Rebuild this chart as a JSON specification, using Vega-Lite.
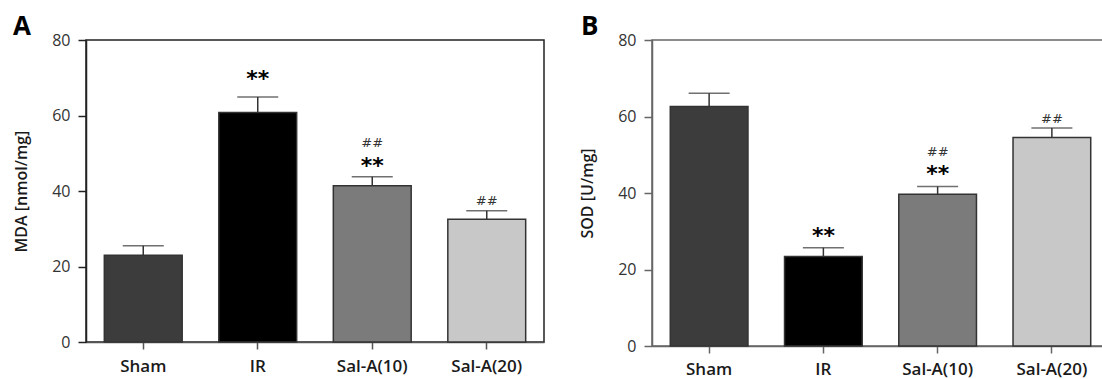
{
  "$schema": "https://vega.github.io/schema/vega-lite/v6.json",
  "padding": {"left": 12, "top": 13, "right": 0, "bottom": 0},
  "background": "white",
  "spacing": 33,
  "config": {
    "font": "Open Sans",
    "axis": {"grid": false},
    "title": {"font": "Open Sans", "fontSize": 26, "fontWeight": "bold", "color": "#000", "anchor": "start", "frame": "group", "baseline": "alphabetic"}
  },
  "datasets": {
    "a": [
      {"group": "Sham", "mean": 23.0, "upper": 25.5},
      {"group": "IR", "mean": 60.8, "upper": 64.9},
      {"group": "Sal-A(10)", "mean": 41.4, "upper": 43.8},
      {"group": "Sal-A(20)", "mean": 32.5, "upper": 34.8}
    ],
    "b": [
      {"group": "Sham", "mean": 62.6, "upper": 66.1},
      {"group": "IR", "mean": 23.4, "upper": 25.7},
      {"group": "Sal-A(10)", "mean": 39.7, "upper": 41.7},
      {"group": "Sal-A(20)", "mean": 54.5, "upper": 57.0}
    ],
    "annA": [
      {"group": "IR", "label": "**", "pos": 67.9},
      {"group": "Sal-A(10)", "label": "**", "pos": 44.9},
      {"group": "Sal-A(10)", "label": "##", "pos": 51.6},
      {"group": "Sal-A(20)", "label": "##", "pos": 36.3}
    ],
    "annB": [
      {"group": "IR", "label": "**", "pos": 26.8},
      {"group": "Sal-A(10)", "label": "**", "pos": 43.1},
      {"group": "Sal-A(10)", "label": "##", "pos": 49.8},
      {"group": "Sal-A(20)", "label": "##", "pos": 58.4}
    ]
  },
  "hconcat": [
    {
      "width": 458,
      "height": 302,
      "title": {"text": "A", "dx": -73, "offset": -8},
      "view": {"stroke": "#222", "strokeWidth": 1.5},
      "encoding": {
        "x": {"field": "group", "type": "nominal", "sort": null,
          "scale": {"domain": ["Sham", "IR", "Sal-A(10)", "Sal-A(20)"], "paddingInner": 0.32, "paddingOuter": 0.16},
          "axis": {"title": null, "labelAngle": 0, "labelFont": "Open Sans", "labelFontSize": 17, "labelFontWeight": 600, "labelColor": "#1a1a1a", "labelPadding": 9, "tickSize": 7, "tickWidth": 1.5, "tickColor": "#555", "domainColor": "#555", "domainWidth": 1.5}
        }
      },
      "layer": [
        {
          "data": {"name": "a"},
          "mark": {"type": "bar", "stroke": "#333", "strokeWidth": 1.5},
          "encoding": {
            "y": {"field": "mean", "type": "quantitative", "scale": {"domain": [0, 80], "nice": false},
              "axis": {"title": "MDA [nmol/mg]", "values": [0, 20, 40, 60, 80], "labelFont": "Open Sans", "labelFontSize": 16, "labelColor": "#333", "labelPadding": 8, "tickSize": 8, "tickWidth": 1.5, "tickColor": "#222", "domainColor": "#222", "domainWidth": 1.5, "titleFont": "Open Sans", "titleFontSize": 16, "titleFontWeight": 600, "titleColor": "#1a1a1a", "titlePadding": 22}},
            "color": {"field": "group", "type": "nominal", "sort": null,
              "scale": {"domain": ["Sham", "IR", "Sal-A(10)", "Sal-A(20)"], "range": ["#3c3c3c", "#000000", "#7b7b7b", "#c8c8c8"]}, "legend": null}
          }
        },
        {
          "data": {"name": "a"},
          "mark": {"type": "rule", "color": "#333", "strokeWidth": 1.5},
          "encoding": {"y": {"field": "mean", "type": "quantitative"}, "y2": {"field": "upper"}}
        },
        {
          "data": {"name": "a"},
          "mark": {"type": "tick", "color": "#333", "thickness": 1.5, "size": 41, "orient": "horizontal"},
          "encoding": {"y": {"field": "upper", "type": "quantitative"}}
        },
        {
          "data": {"name": "annA"},
          "transform": [{"filter": "datum.label == '**'"}],
          "mark": {"type": "text", "font": "DejaVu Sans", "fontSize": 22, "fontWeight": "bold", "color": "#000", "baseline": "alphabetic"},
          "encoding": {"y": {"field": "pos", "type": "quantitative"}, "text": {"field": "label"}}
        },
        {
          "data": {"name": "annA"},
          "transform": [{"filter": "datum.label == '##'"}],
          "mark": {"type": "text", "font": "DejaVu Sans", "fontSize": 13, "color": "#333", "baseline": "alphabetic"},
          "encoding": {"y": {"field": "pos", "type": "quantitative"}, "text": {"field": "label"}}
        }
      ]
    },
    {
      "width": 457,
      "height": 306,
      "title": {"text": "B", "dx": -71, "offset": -8},
      "view": {"stroke": "#666", "strokeWidth": 1.5},
      "encoding": {
        "x": {"field": "group", "type": "nominal", "sort": null,
          "scale": {"domain": ["Sham", "IR", "Sal-A(10)", "Sal-A(20)"], "paddingInner": 0.32, "paddingOuter": 0.16},
          "axis": {"title": null, "labelAngle": 0, "labelFont": "Open Sans", "labelFontSize": 17, "labelFontWeight": 600, "labelColor": "#1a1a1a", "labelPadding": 8, "tickSize": 7, "tickWidth": 1.5, "tickColor": "#666", "domainColor": "#666", "domainWidth": 1.5}
        }
      },
      "layer": [
        {
          "data": {"name": "b"},
          "mark": {"type": "bar", "stroke": "#333", "strokeWidth": 1.5},
          "encoding": {
            "y": {"field": "mean", "type": "quantitative", "scale": {"domain": [0, 80], "nice": false},
              "axis": {"title": "SOD [U/mg]", "values": [0, 20, 40, 60, 80], "labelFont": "Open Sans", "labelFontSize": 16, "labelColor": "#333", "labelPadding": 8, "tickSize": 8, "tickWidth": 1.5, "tickColor": "#666", "domainColor": "#666", "domainWidth": 1.5, "titleFont": "Open Sans", "titleFontSize": 16, "titleFontWeight": 600, "titleColor": "#1a1a1a", "titlePadding": 22}},
            "color": {"field": "group", "type": "nominal", "sort": null,
              "scale": {"domain": ["Sham", "IR", "Sal-A(10)", "Sal-A(20)"], "range": ["#3c3c3c", "#000000", "#7b7b7b", "#c8c8c8"]}, "legend": null}
          }
        },
        {
          "data": {"name": "b"},
          "mark": {"type": "rule", "color": "#333", "strokeWidth": 1.5},
          "encoding": {"y": {"field": "mean", "type": "quantitative"}, "y2": {"field": "upper"}}
        },
        {
          "data": {"name": "b"},
          "mark": {"type": "tick", "color": "#333", "thickness": 1.5, "size": 41, "orient": "horizontal"},
          "encoding": {"y": {"field": "upper", "type": "quantitative"}}
        },
        {
          "data": {"name": "annB"},
          "transform": [{"filter": "datum.label == '**'"}],
          "mark": {"type": "text", "font": "DejaVu Sans", "fontSize": 22, "fontWeight": "bold", "color": "#000", "baseline": "alphabetic"},
          "encoding": {"y": {"field": "pos", "type": "quantitative"}, "text": {"field": "label"}}
        },
        {
          "data": {"name": "annB"},
          "transform": [{"filter": "datum.label == '##'"}],
          "mark": {"type": "text", "font": "DejaVu Sans", "fontSize": 13, "color": "#333", "baseline": "alphabetic"},
          "encoding": {"y": {"field": "pos", "type": "quantitative"}, "text": {"field": "label"}}
        }
      ]
    }
  ]
}
